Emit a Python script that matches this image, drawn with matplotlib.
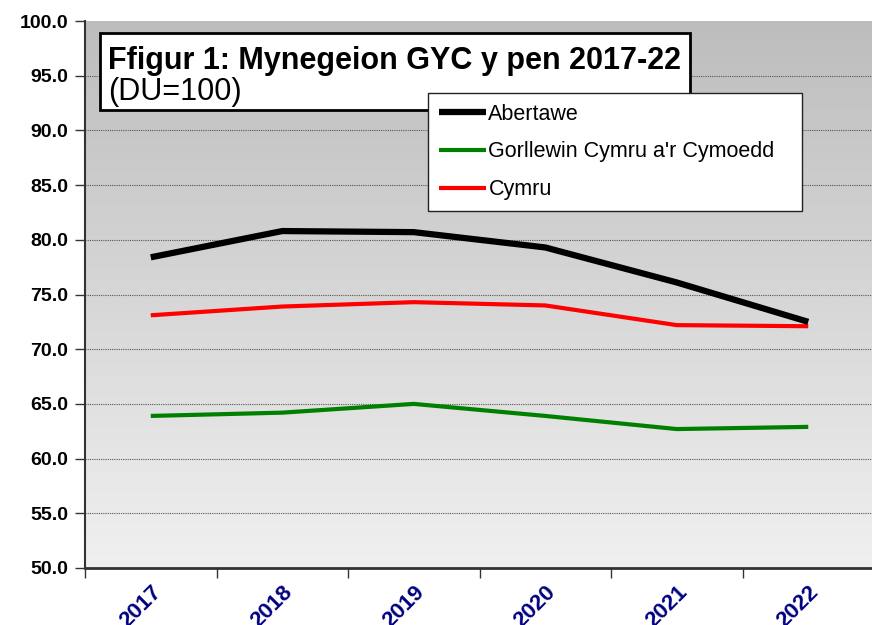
import numpy as np
import matplotlib
matplotlib.use('Agg')
import matplotlib.pyplot as plt
from matplotlib.patches import Rectangle

plt.rcParams['font.family'] = ['Liberation Sans', 'DejaVu Sans']

years = ['2017', '2018', '2019', '2020', '2021', '2022']
abertawe = [78.4, 80.8, 80.7, 79.3, 76.1, 72.5]
gorllewin = [63.9, 64.2, 65.0, 63.9, 62.7, 62.9]
cymru = [73.1, 73.9, 74.3, 74.0, 72.2, 72.1]
yticks = [50, 55, 60, 65, 70, 75, 80, 85, 90, 95, 100]

fig = plt.figure(figsize=(8.72, 6.25), dpi=100)
ax = fig.add_axes([0.0975, 0.0912, 0.9048, 0.8752])

x = np.arange(1, len(years) + 1)

# gradient background
grad = np.linspace(0, 1, 256).reshape(-1, 1)
ax.imshow(grad, extent=(0.5, 6.5, 50, 100), aspect='auto', origin='upper',
          cmap=matplotlib.colors.LinearSegmentedColormap.from_list('bg', ['#bdbdbd', '#f0f0f0']),
          zorder=0)

for yv in yticks[1:-1]:
    ax.axhline(yv, color='#555555', lw=0.8, ls=(0, (1, 1)), zorder=1)

ax.plot(x, abertawe, color='black', lw=4.5, label='Abertawe', zorder=4,
        solid_capstyle='butt')
ax.plot(x, gorllewin, color='#008000', lw=3, label="Gorllewin Cymru a'r Cymoedd", zorder=3,
        solid_capstyle='butt')
ax.plot(x, cymru, color='#ff0000', lw=3, label='Cymru', zorder=3,
        solid_capstyle='butt')

ax.set_xlim(0.5, 6.5)
ax.set_ylim(50, 100)
ax.set_yticks(yticks)
ax.set_yticklabels(['%.1f' % v for v in yticks], fontsize=14, fontweight='bold')
ax.set_xticks(x)
ax.set_xticklabels(years, rotation=45, ha='right', rotation_mode='anchor',
                   fontsize=16, fontweight='bold', color='#000080')
ax.set_xticks(np.arange(0.5, 7, 1), minor=True)
ax.tick_params(axis='x', which='major', length=0, pad=10)
ax.tick_params(axis='x', which='minor', length=7, width=1, color='#333333')
ax.tick_params(axis='y', length=7, width=1, color='#333333', pad=5)

for s in ['top', 'right']:
    ax.spines[s].set_visible(False)
ax.spines['left'].set_color('#333333')
ax.spines['left'].set_linewidth(1.5)
ax.spines['bottom'].set_color('#333333')
ax.spines['bottom'].set_linewidth(2)

# title box
ax.add_artist(Rectangle((0.1147, 0.824), 0.6765, 0.123, transform=fig.transFigure,
                        facecolor='white', edgecolor='black', lw=2, zorder=6,
                        clip_on=False))
ax.text(0.124, 0.890, 'Ffigur 1: Mynegeion GYC y pen 2017-22', fontsize=22,
        fontweight='bold', va='baseline', zorder=7, transform=fig.transFigure)
ax.text(0.124, 0.840, '(DU=100)', fontsize=22, va='baseline', zorder=7,
        transform=fig.transFigure)

leg = ax.legend(loc='upper left', bbox_to_anchor=(0.491, 0.674, 0.429, 0.177),
                bbox_transform=fig.transFigure, mode='expand', fancybox=False,
                framealpha=1, edgecolor='#222222', fontsize=15.5, handlelength=2.2,
                handletextpad=0.1, labelspacing=0.77, borderaxespad=0, borderpad=0.5)
leg.get_frame().set_linewidth(1)
leg.set_zorder(10)

fig.savefig('out.png', dpi=100)
